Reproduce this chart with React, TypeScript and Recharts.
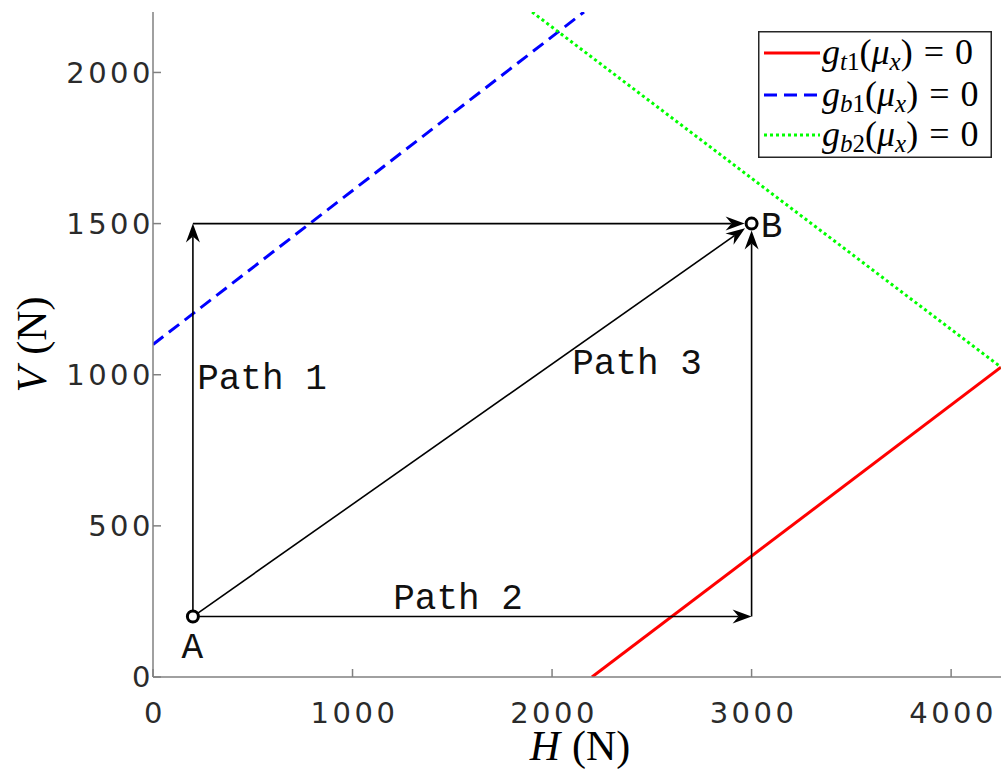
import { ComposedChart, Line, XAxis, YAxis, ReferenceLine, ReferenceDot, Legend } from 'recharts';

// design-limit lines (H in N, V in N)
const GT1_H = [2200, 4250];
const GT1_V = [0, 1025];
const GB1_H = [0, 2160];
const GB1_V = [1100, 2200];
const GB2_H = [1900, 4250];
const GB2_V = [2200, 1025];

const SERIES_SUBS = ['t1', 'b1', 'b2'];
const SERIES_COLORS = ['#ff0000', '#0000ff', '#00ff00'];
const SERIES_DASH = ['', '13 7', '3 3'];

const X_TICKS = [0, 1000, 2000, 3000, 4000];
const Y_TICKS = [0, 500, 1000, 1500, 2000];

// load points A and B
const PT_A = { x: 200, y: 200 };
const PT_B = { x: 3000, y: 1500 };
const CORNER_1 = { x: 200, y: 1500 };
const CORNER_2 = { x: 3000, y: 200 };

// path segments: from, to, how far the tip stops short of the end (px)
const SEGMENTS = [
  { from: PT_A, to: CORNER_1, trim: 0 },
  { from: CORNER_1, to: PT_B, trim: 7 },
  { from: PT_A, to: CORNER_2, trim: 0 },
  { from: CORNER_2, to: PT_B, trim: 7 },
  { from: PT_A, to: PT_B, trim: 8 },
];

const TEXT_LABELS = ['Path 1', 'Path 2', 'Path 3', 'A', 'B'];
const TEXT_H = [546, 1529, 2426, 197, 3100];
const TEXT_V = [990, 261, 1039, 100, 1490];

const toPts = (hs: number[], vs: number[]) => hs.map((h, i) => ({ h, v: vs[i] }));
const SERIES_DATA = [toPts(GT1_H, GT1_V), toPts(GB1_H, GB1_V), toPts(GB2_H, GB2_V)];

const AXIS_GRAY = '#808080';
const TICK_STYLE = { fontFamily: 'DejaVu Sans', fontSize: 29, fill: '#2b2b2b', letterSpacing: 3.5 };

function Arrow(props: any) {
  const { x1, y1, x2, y2, trim } = props;
  const dx = x2 - x1;
  const dy = y2 - y1;
  const len = Math.hypot(dx, dy) || 1;
  const ux = dx / len;
  const uy = dy / len;
  const tx = x2 - ux * trim;
  const ty = y2 - uy * trim;
  const L = 19;
  const W = 7;
  const notch = 13;
  const bx = tx - ux * L;
  const by = ty - uy * L;
  const nx = -uy;
  const ny = ux;
  const pts = [
    [tx, ty],
    [bx + nx * W, by + ny * W],
    [tx - ux * notch, ty - uy * notch],
    [bx - nx * W, by - ny * W],
  ]
    .map((p) => p.join(','))
    .join(' ');
  return (
    <g>
      <line x1={x1} y1={y1} x2={tx - ux * notch} y2={ty - uy * notch} stroke="#000" strokeWidth={1.6} />
      <polygon points={pts} fill="#000" />
    </g>
  );
}

function MathText({ x, y, sub }: { x: number; y: number; sub: string }) {
  return (
    <text x={x} y={y} fontFamily="Liberation Serif" fontSize={36} fill="#000">
      <tspan fontStyle="italic">g</tspan>
      <tspan fontSize={25} dy={6} fontStyle="italic">{sub[0]}</tspan>
      <tspan fontSize={25}>{sub.slice(1)}</tspan>
      <tspan dy={-6}>(</tspan>
      <tspan fontStyle="italic">μ</tspan>
      <tspan fontSize={25} dy={6} fontStyle="italic">x</tspan>
      <tspan dy={-6}>)</tspan>
      <tspan dx={11}>=</tspan>
      <tspan dx={11}>0</tspan>
    </text>
  );
}

function LegendBox() {
  const rows = [22, 64, 104];
  return (
    <svg width={234} height={127} style={{ display: 'block' }}>
      <rect x={0.75} y={0.75} width={232.5} height={125.5} fill="#fff" stroke="#262626" strokeWidth={1.5} />
      {SERIES_SUBS.map((s, i) => (
        <g key={s}>
          <line
            x1={6}
            x2={62}
            y1={rows[i]}
            y2={rows[i]}
            stroke={SERIES_COLORS[i]}
            strokeWidth={3}
            strokeDasharray={SERIES_DASH[i] || undefined}
          />
          <MathText x={64} y={rows[i] + 11} sub={s} />
        </g>
      ))}
    </svg>
  );
}

export default function App() {
  return (
    <div style={{ position: 'absolute', left: 0, top: 0, width: 1002, height: 771, background: '#fff' }}>
      <ComposedChart width={1002} height={771} margin={{ top: 12, right: 1, bottom: 0, left: 0 }}>
        <XAxis
          type="number"
          dataKey="h"
          domain={[0, 4250]}
          ticks={X_TICKS}
          interval={0}
          height={94}
          tickSize={-8}
          tickMargin={33}
          stroke={AXIS_GRAY}
          strokeWidth={1.5}
          tick={{ ...TICK_STYLE, dx: 2 }}
          allowDataOverflow
          label={(p: any) => {
            const vb = p.viewBox;
            return (
              <text x={vb.x + vb.width / 2 + 3} y={760} textAnchor="middle" fontFamily="Liberation Serif" fontSize={42} fill="#000">
                <tspan fontStyle="italic">H</tspan>
                <tspan dx={12}>(N)</tspan>
              </text>
            );
          }}
        />
        <XAxis
          xAxisId="top"
          orientation="top"
          type="number"
          domain={[0, 4250]}
          ticks={X_TICKS}
          height={0}
          tickSize={-8}
          tick={false}
          stroke={AXIS_GRAY}
          strokeWidth={1.5}
        />
        <YAxis
          type="number"
          domain={[0, 2200]}
          ticks={Y_TICKS}
          interval={0}
          width={153}
          tickSize={-8}
          tickMargin={7}
          stroke={AXIS_GRAY}
          strokeWidth={1.5}
          tick={TICK_STYLE}
          allowDataOverflow
          label={(p: any) => {
            const vb = p.viewBox;
            const cy = vb.y + vb.height / 2;
            return (
              <text
                x={46}
                y={cy}
                transform={`rotate(-90, 46, ${cy})`}
                textAnchor="middle"
                fontFamily="Liberation Serif"
                fontSize={42}
                fill="#000"
              >
                <tspan fontStyle="italic">V</tspan>
                <tspan dx={12}>(N)</tspan>
              </text>
            );
          }}
        />
        <YAxis
          yAxisId="right"
          orientation="right"
          type="number"
          domain={[0, 2200]}
          ticks={Y_TICKS}
          width={0}
          tickSize={-8}
          tick={false}
          stroke={AXIS_GRAY}
          strokeWidth={1.5}
        />
        <Legend
          layout="horizontal"
          verticalAlign="middle"
          align="center"
          wrapperStyle={{ position: 'absolute', top: 31, left: 758, width: 234, height: 127 }}
          content={() => <LegendBox />}
        />
        {SERIES_DATA.map((d, i) => (
          <Line
            key={SERIES_SUBS[i]}
            data={d}
            dataKey="v"
            stroke={SERIES_COLORS[i]}
            strokeWidth={3}
            strokeDasharray={SERIES_DASH[i] || undefined}
            dot={false}
            activeDot={false}
            isAnimationActive={false}
            legendType="none"
          />
        ))}
        {SEGMENTS.map((s, i) => (
          <ReferenceLine
            key={'seg' + i}
            segment={[s.from, s.to]}
            ifOverflow="visible"
            shape={(p: any) => <Arrow {...p} trim={s.trim} />}
          />
        ))}
        {[PT_A, PT_B].map((p, i) => (
          <ReferenceDot
            key={'pt' + i}
            x={p.x}
            y={p.y}
            r={6}
            shape={(q: any) => <circle cx={q.cx} cy={q.cy} r={5.5} fill="#fff" stroke="#000" strokeWidth={3} />}
          />
        ))}
        {TEXT_LABELS.map((t, i) => (
          <ReferenceDot
            key={t}
            x={TEXT_H[i]}
            y={TEXT_V[i]}
            r={0}
            shape={(p: any) => (
              <text
                x={p.cx}
                y={p.cy}
                dy="0.3em"
                textAnchor="middle"
                fontFamily="Liberation Mono"
                fontSize={36}
                fill="#111"
              >
                {t}
              </text>
            )}
          />
        ))}
      </ComposedChart>
    </div>
  );
}
